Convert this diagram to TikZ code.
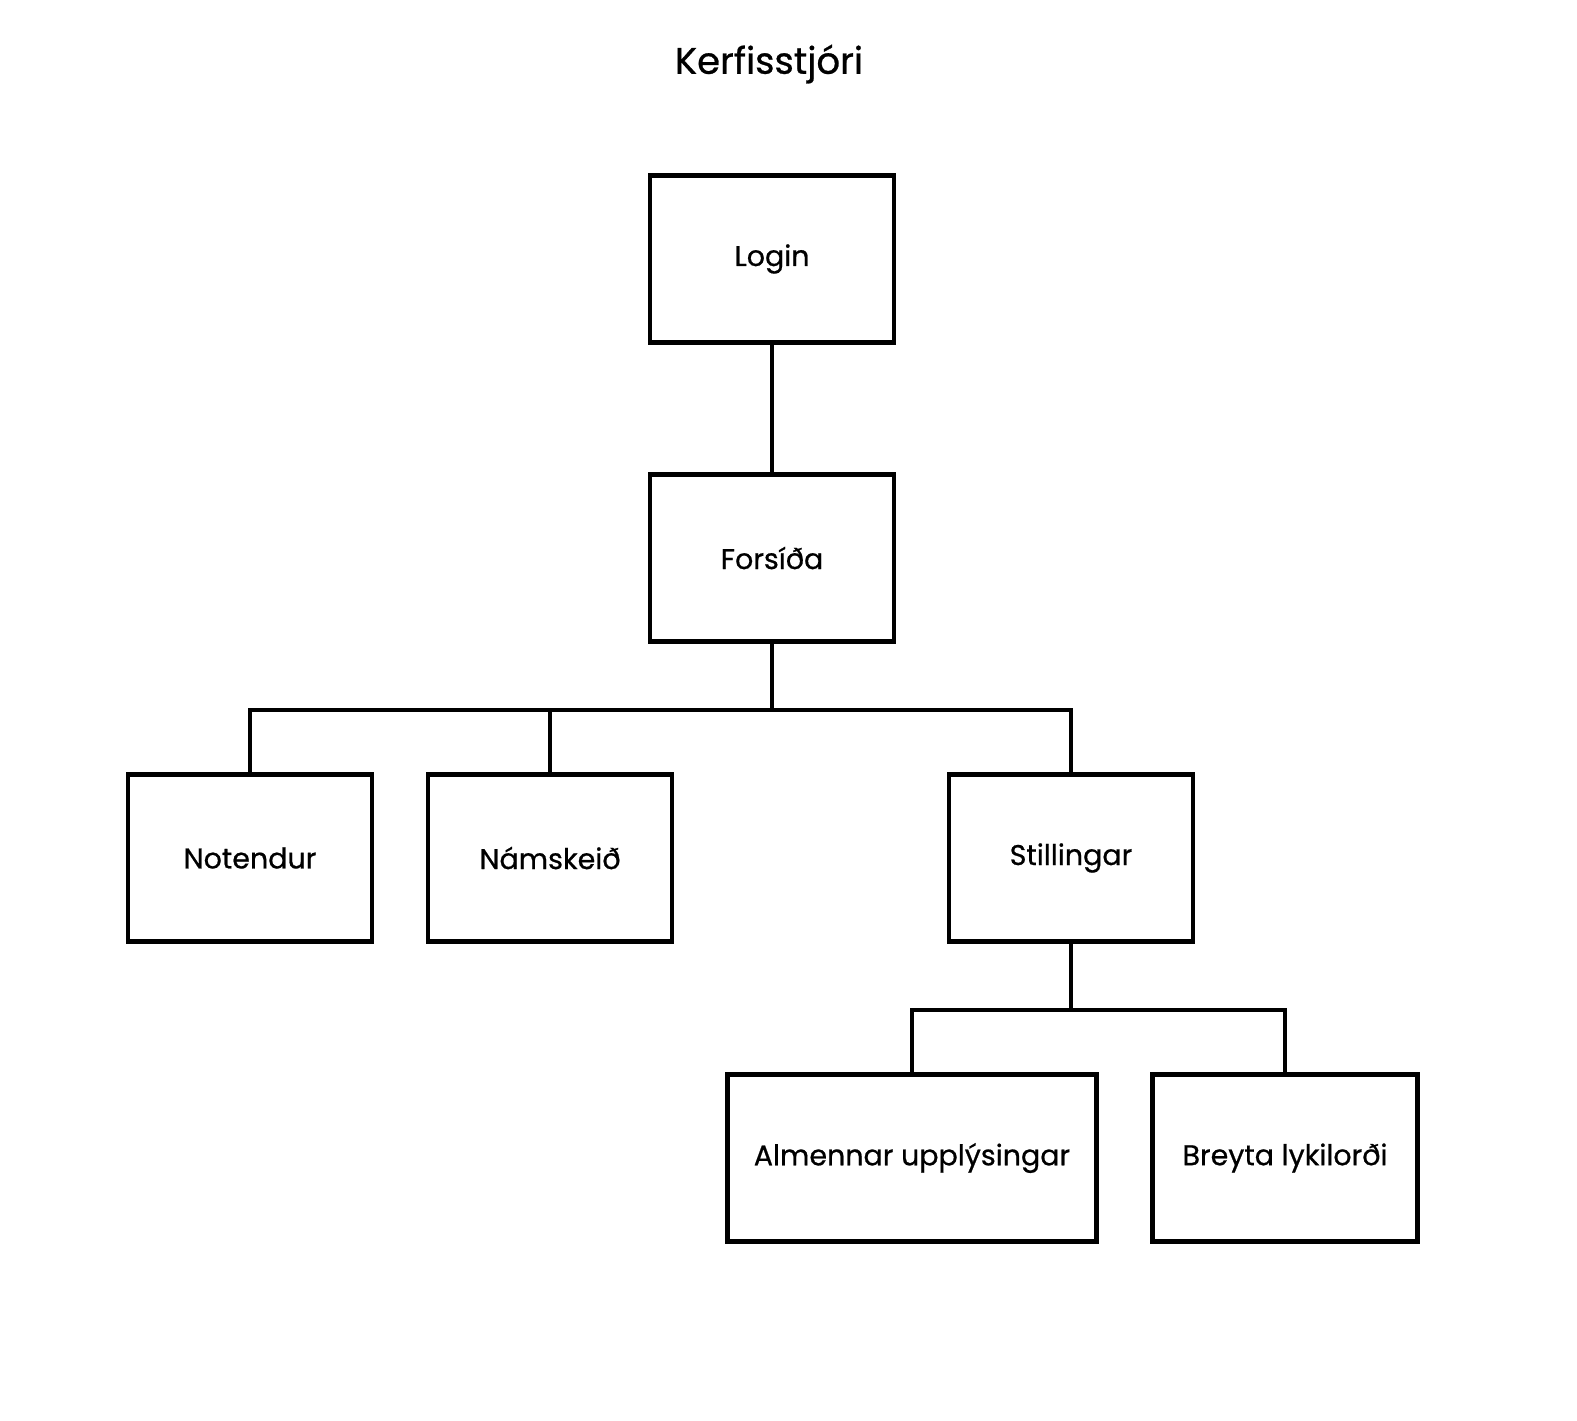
\documentclass[tikz,border=0pt]{standalone}
\usepackage{fontspec}
\setmainfont{Poppins}
\newfontfamily\labelfont{Poppins}[FakeBold=0.7]
\begin{document}
\begin{tikzpicture}[x=1pt,y=-1pt,
  box/.style={draw=black, line width=4.5pt, fill=white, minimum height=167pt,
    inner sep=0pt, font=\labelfont\fontsize{28.5}{32}\selectfont},
  link/.style={draw=black, line width=3.2pt}]
  \useasboundingbox[fill=white] (0,0) rectangle (1577,1421);

  \node[font=\labelfont\fontsize{37}{42}\selectfont] (title) at (769,64) {Kerfisstjóri};

  \node[box, minimum width=244pt] (login)   at (772,259)  {Login};
  \node[box, minimum width=244pt] (forsida) at (772,558)  {Forsíða};
  \node[box, minimum width=244pt] (notendur) at (250,858) {Notendur};
  \node[box, minimum width=244pt] (namskeid) at (550,858) {Námskeið};
  \node[box, minimum width=244pt] (stillingar) at (1071,858) {Stillingar};
  \node[box, minimum width=369pt] (almennar) at (912,1158) {Almennar upplýsingar};
  \node[box, minimum width=265pt] (breyta) at (1285,1158) {Breyta lykilorði};

  \coordinate (bus1) at (772,710);
  \coordinate (bus2) at (1071,1010);

  \draw[link] (login.south) -- (forsida.north);
  \draw[link] (forsida.south) -- (bus1);
  \draw[link] (bus1) -| (notendur.north);
  \draw[link] (bus1) -| (namskeid.north);
  \draw[link] (bus1) -| (stillingar.north);
  \draw[link] (stillingar.south) -- (bus2);
  \draw[link] (bus2) -| (almennar.north);
  \draw[link] (bus2) -| (breyta.north);
\end{tikzpicture}
\end{document}
